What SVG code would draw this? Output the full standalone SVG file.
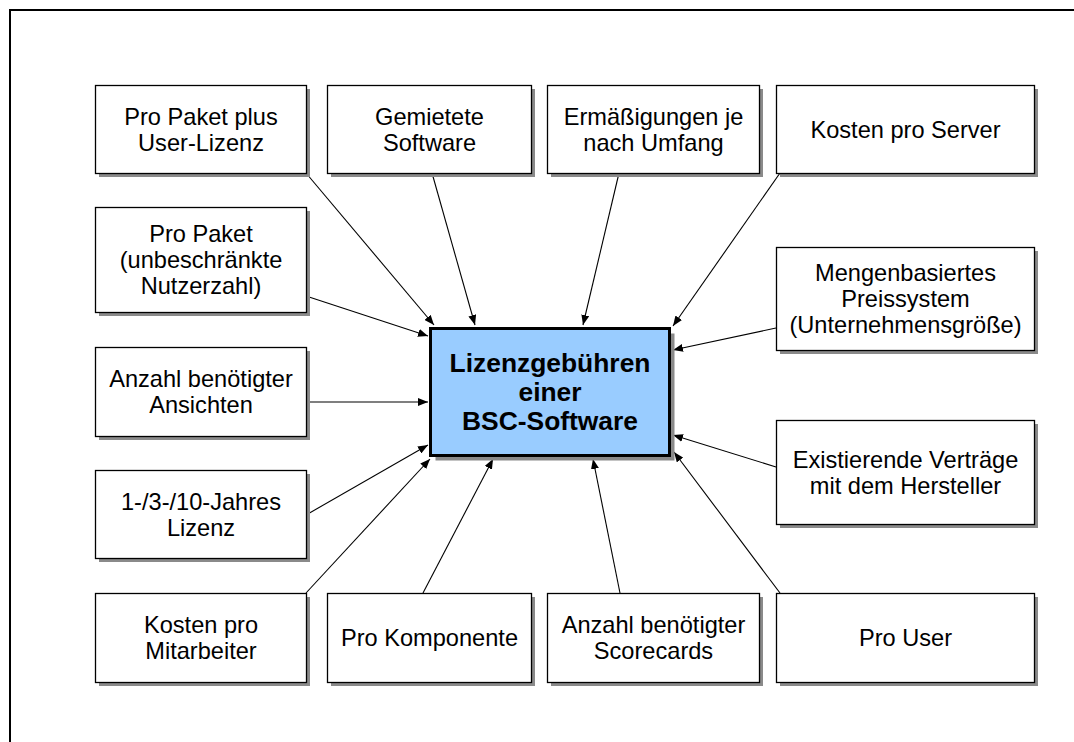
<svg xmlns="http://www.w3.org/2000/svg" width="1074" height="742" viewBox="0 0 1074 742">
<defs>
<style>
.shadow{fill:#8a8a8a;stroke:none}
.box{fill:#ffffff;stroke:#000000;stroke-width:1.3}
.t{font-family:"Liberation Sans",Arial,sans-serif;font-size:23.6px;fill:#000000;text-anchor:middle}
.tb{font-family:"Liberation Sans",Arial,sans-serif;font-size:26.4px;font-weight:bold;fill:#000000;text-anchor:middle}
.c{stroke:#000000;stroke-width:1.1;fill:none;marker-end:url(#ah)}
</style>
<marker id="ah" markerWidth="10" markerHeight="8" refX="10" refY="4" orient="auto" markerUnits="userSpaceOnUse">
<path d="M0,0 L10,4 L0,8 z" fill="#000000"/>
</marker>
</defs>
<rect x="0" y="0" width="1074" height="742" fill="#ffffff"/>
<rect x="10" y="10" width="1100" height="800" fill="none" stroke="#000000" stroke-width="2"/>

<g id="connectors">
<path class="c" d="M306,173 L434,325"/>
<path class="c" d="M432,173 L475,325"/>
<path class="c" d="M619,173 L583,325"/>
<path class="c" d="M780,173 L673,326"/>
<path class="c" d="M306,296 L428,336"/>
<path class="c" d="M306,402 L428,402"/>
<path class="c" d="M306,515 L428,445"/>
<path class="c" d="M306,593 L430,459"/>
<path class="c" d="M423,593 L493,459"/>
<path class="c" d="M620,593 L593,459"/>
<path class="c" d="M780,593 L674,452"/>
<path class="c" d="M776,467 L673,435"/>
<path class="c" d="M776,328 L673,350"/>
</g>

<g id="center">
<rect x="435.5" y="333.5" width="239" height="127" class="shadow"/>
<rect x="430.5" y="328.5" width="239" height="127" fill="#99ccff" stroke="#000000" stroke-width="3"/>
<text class="tb" x="550" y="372">Lizenzgebühren</text>
<text class="tb" x="550" y="401">einer</text>
<text class="tb" x="550" y="430">BSC-Software</text>
</g>

<g id="n1">
<rect x="99" y="89" width="211" height="88" class="shadow"/>
<rect x="95.5" y="85.5" width="211" height="88" class="box"/>
<text class="t" x="201" y="124.5">Pro Paket plus</text>
<text class="t" x="201" y="150.5">User-Lizenz</text>
</g>
<g id="n2">
<rect x="331" y="89" width="204" height="88" class="shadow"/>
<rect x="327.5" y="85.5" width="204" height="88" class="box"/>
<text class="t" x="429.5" y="124.5">Gemietete</text>
<text class="t" x="429.5" y="150.5">Software</text>
</g>
<g id="n3">
<rect x="551" y="89" width="212" height="88" class="shadow"/>
<rect x="547.5" y="85.5" width="212" height="88" class="box"/>
<text class="t" x="653.5" y="124.5">Ermäßigungen je</text>
<text class="t" x="653.5" y="150.5">nach Umfang</text>
</g>
<g id="n4">
<rect x="780" y="89" width="258" height="88" class="shadow"/>
<rect x="776.5" y="85.5" width="258" height="88" class="box"/>
<text class="t" x="905.5" y="137.5">Kosten pro Server</text>
</g>

<g id="n5">
<rect x="99" y="211" width="211" height="105" class="shadow"/>
<rect x="95.5" y="207.5" width="211" height="105" class="box"/>
<text class="t" x="201" y="242">Pro Paket</text>
<text class="t" x="201" y="268">(unbeschränkte</text>
<text class="t" x="201" y="294">Nutzerzahl)</text>
</g>
<g id="n6">
<rect x="99" y="351" width="211" height="89" class="shadow"/>
<rect x="95.5" y="347.5" width="211" height="89" class="box"/>
<text class="t" x="201" y="387">Anzahl benötigter</text>
<text class="t" x="201" y="413">Ansichten</text>
</g>
<g id="n7">
<rect x="99" y="474" width="211" height="88" class="shadow"/>
<rect x="95.5" y="470.5" width="211" height="88" class="box"/>
<text class="t" x="201" y="509.5">1-/3-/10-Jahres</text>
<text class="t" x="201" y="535.5">Lizenz</text>
</g>

<g id="n8">
<rect x="780" y="251" width="258" height="103" class="shadow"/>
<rect x="776.5" y="247.5" width="258" height="103" class="box"/>
<text class="t" x="905.5" y="281">Mengenbasiertes</text>
<text class="t" x="905.5" y="307">Preissystem</text>
<text class="t" x="905.5" y="333">(Unternehmensgröße)</text>
</g>
<g id="n9">
<rect x="780" y="424" width="258" height="104" class="shadow"/>
<rect x="776.5" y="420.5" width="258" height="104" class="box"/>
<text class="t" x="905.5" y="467.5">Existierende Verträge</text>
<text class="t" x="905.5" y="493.5">mit dem Hersteller</text>
</g>

<g id="n10">
<rect x="99" y="597" width="211" height="89" class="shadow"/>
<rect x="95.5" y="593.5" width="211" height="89" class="box"/>
<text class="t" x="201" y="633">Kosten pro</text>
<text class="t" x="201" y="659">Mitarbeiter</text>
</g>
<g id="n11">
<rect x="331" y="597" width="204" height="89" class="shadow"/>
<rect x="327.5" y="593.5" width="204" height="89" class="box"/>
<text class="t" x="429.5" y="646">Pro Komponente</text>
</g>
<g id="n12">
<rect x="551" y="597" width="212" height="89" class="shadow"/>
<rect x="547.5" y="593.5" width="212" height="89" class="box"/>
<text class="t" x="653.5" y="633">Anzahl benötigter</text>
<text class="t" x="653.5" y="659">Scorecards</text>
</g>
<g id="n13">
<rect x="780" y="597" width="258" height="89" class="shadow"/>
<rect x="776.5" y="593.5" width="258" height="89" class="box"/>
<text class="t" x="905.5" y="646">Pro User</text>
</g>
</svg>
